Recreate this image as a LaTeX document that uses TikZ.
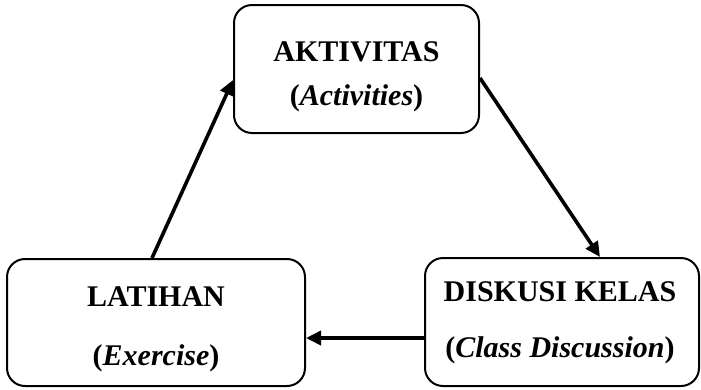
\documentclass[tikz,border=0pt]{standalone}
\usepackage{fontspec}
\setmainfont{Liberation Serif}
\usetikzlibrary{arrows.meta,calc}
\begin{document}
\begin{tikzpicture}[x=1pt,y=-1pt,
  box/.style={draw,line width=2pt,rounded corners=18pt,inner sep=0pt},
  lbl/.style={font=\fontsize{30}{33}\selectfont\bfseries,inner sep=0pt,anchor=center},
  arr/.style={line width=3.6pt,-{Triangle[length=15pt,width=14pt]}}]
\useasboundingbox (0,0) rectangle (701,389);
\node[box,minimum width=245pt,minimum height=128pt] (akt) at (356.5,69) {};
\node[box,minimum width=298pt,minimum height=127pt] (lat) at (156,322.5) {};
\node[box,minimum width=274pt,minimum height=128pt] (dis) at (562,322) {};
\node[lbl] (t1) at (356.5,52) {AKTIVITAS};
\node[lbl] (t2) at (356.5,98) {(\textit{Activities})};
\node[lbl] (t3) at (156,297) {LATIHAN};
\node[lbl] (t4) at (156,358) {(\textit{Exercise})};
\node[lbl] (t5) at (560,292) {DISKUSI KELAS};
\node[lbl] (t6) at (560,350) {(\textit{Class Discussion})};
\coordinate (a1) at ($(lat.north west)+(146,0)$);
\coordinate (a2) at (akt.west |- 0,80);
\coordinate (b1) at (akt.east |- 0,78);
\coordinate (b2) at ($(dis.north west)+(176,0)$);
\coordinate (c1) at (dis.west |- 0,338);
\coordinate (c2) at (lat.east |- 0,338);
\draw[arr] (a1) -- (a2);
\draw[arr] (b1) -- (b2);
\draw[arr] (c1) -- (c2);
\end{tikzpicture}
\end{document}
